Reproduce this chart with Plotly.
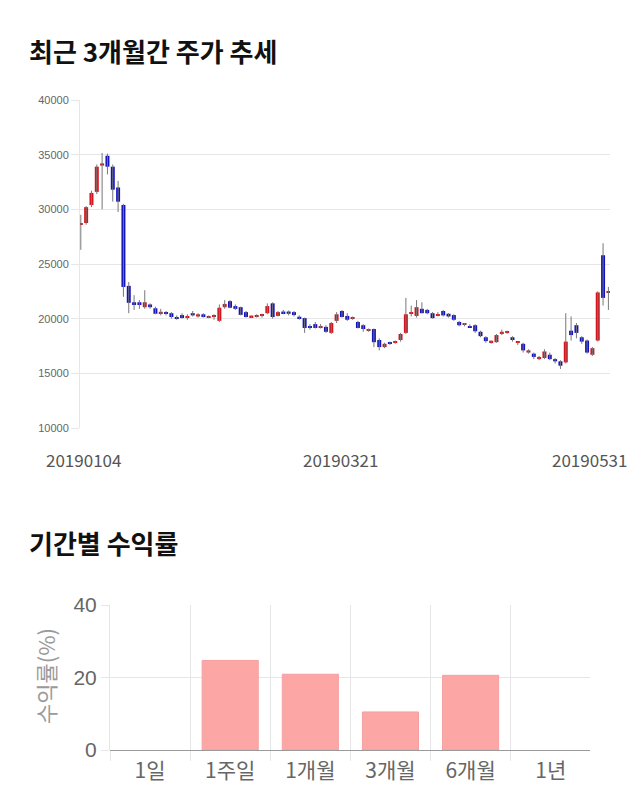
import plotly.graph_objects as go
import pandas as pd

# ---------------- data ----------------
holidays = ["2019-02-04", "2019-02-05", "2019-02-06", "2019-03-01", "2019-05-01", "2019-05-06"]
bdays = pd.bdate_range("2019-01-04", "2019-05-31")
dates = [d.strftime("%Y%m%d") for d in bdays if d.strftime("%Y-%m-%d") not in holidays]

open_ = [28600, 28750, 30400, 31600, 34000, 34900, 33900, 32000, 30400, 23000,
         21500, 21500, 21050, 21300, 20950, 20500, 20550, 20500, 20100, 20330,
         20100, 20500, 20200, 20400, 20100, 20200, 19800, 21050, 21600, 21150,
         21050, 20600, 20150, 20200, 20250, 20500, 21400, 20250, 20650, 20650,
         20600, 20150, 20050, 19300, 19500, 19200, 19250, 18700, 19800, 20700,
         20250, 20000, 19700, 19400, 18900, 19050, 18050, 17400, 17850, 17800,
         18050, 18700, 20450, 20250, 20900, 20800, 20500, 20300, 20700, 20450,
         20330, 19700, 19450, 19300, 19400, 18800, 18300, 17850, 17850, 18600,
         18700, 18300, 17800, 17700, 16900, 16800, 16300, 16400, 16700, 16300,
         16100, 16000, 18900, 19400, 18300, 18000, 16700, 18000, 25800, 22350]
high_ = [29500, 30300, 31700, 34100, 35150, 35100, 34100, 32600, 30500, 23350,
         22150, 21700, 22600, 21400, 21100, 20900, 20700, 20600, 20300, 20500,
         20400, 20700, 20500, 20500, 20300, 20400, 21300, 21700, 21700, 21300,
         21100, 20700, 20300, 20400, 20450, 21400, 21500, 20700, 20800, 20750,
         20700, 20300, 20100, 19500, 19700, 19500, 19400, 19700, 20600, 20800,
         20500, 20200, 19800, 19500, 19100, 19100, 18200, 17800, 17900, 18000,
         18700, 21900, 21200, 21700, 21500, 20900, 20600, 20600, 20800, 20500,
         20400, 19800, 19600, 19500, 19500, 18900, 18400, 18000, 18600, 19000,
         18900, 18400, 17900, 17800, 17200, 16900, 16600, 17200, 16900, 16400,
         16200, 20500, 20200, 19600, 18400, 18100, 17400, 22500, 26900, 22900]
low_ = [26300, 28600, 30200, 31400, 30000, 33200, 30700, 29750, 22000, 20500,
        20800, 20900, 20900, 20900, 20400, 20300, 20300, 20000, 19900, 20000,
        19900, 20200, 20100, 20100, 20050, 19900, 19700, 20900, 20950, 20800,
        20300, 20100, 20050, 20100, 20100, 20400, 20000, 20200, 20400, 20300,
        20200, 19900, 18700, 19000, 19100, 19100, 18700, 18600, 19600, 20100,
        19800, 19900, 19100, 18800, 18800, 17400, 17100, 17300, 17600, 17700,
        17900, 18600, 20200, 20100, 20500, 20400, 20000, 20200, 20200, 20100,
        19800, 19300, 19300, 19200, 18700, 18300, 17800, 17700, 17800, 18500,
        18600, 17900, 17600, 16900, 16800, 16300, 16200, 16300, 16200, 15900,
        15400, 15900, 18000, 18200, 17700, 16800, 16600, 17900, 21200, 20800]
close_ = [28700, 30200, 31500, 33900, 34200, 33900, 31800, 30700, 22900, 21450,
          21250, 21250, 21500, 21050, 20450, 20600, 20450, 20150, 20000, 20060,
          20200, 20300, 20400, 20150, 20200, 20300, 21000, 21350, 21000, 20900,
          20350, 20150, 20250, 20300, 20350, 21150, 20150, 20600, 20500, 20450,
          20330, 20050, 19150, 19150, 19150, 19300, 18800, 19600, 20400, 20150,
          19900, 20100, 19150, 19050, 19000, 17850, 17400, 17700, 17700, 17950,
          18600, 20400, 20550, 21050, 20500, 20500, 20050, 20400, 20300, 20200,
          19900, 19400, 19550, 19200, 18850, 18400, 17950, 17950, 18500, 18800,
          18800, 18050, 17900, 17100, 17100, 16500, 16500, 17000, 16300, 16100,
          15700, 17900, 18500, 18700, 17900, 16900, 17300, 22400, 21900, 22450]

periods = ["1일", "1주일", "1개월", "3개월", "6개월", "1년"]
returns = [None, 24.7, 20.9, 10.5, 20.6, None]

price_ticks = [10000, 15000, 20000, 25000, 30000, 35000, 40000]
return_ticks = [0, 20, 40]
date_labels = ["20190104", "20190321", "20190531"]

# ---------------- styles ----------------
UP = "#d3161d"
DOWN = "#1414be"
GRID = "#e6e6e6"
KFONT = "Noto Sans CJK KR"

W, H = 640, 810
def px_x(p):
    return p / W
def px_y(p):
    return 1 - p / H

fig = go.Figure()

# wicks
wx, wy = [], []
for d, hi, lo in zip(dates, high_, low_):
    wx += [d, d, None]
    wy += [lo, hi, None]
fig.add_trace(go.Scatter(x=wx, y=wy, mode="lines", line=dict(color="#777777", width=1),
                         hoverinfo="skip", showlegend=False, xaxis="x", yaxis="y"))

# bodies
base = [min(o, c) for o, c in zip(open_, close_)]
height = [max(abs(c - o), 130) for o, c in zip(open_, close_)]
colors = [UP if c > o else DOWN for o, c in zip(open_, close_)]
fig.add_trace(go.Bar(x=dates, y=height, base=base, width=0.75,
                     marker=dict(color=colors, line=dict(width=0)),
                     showlegend=False, xaxis="x", yaxis="y"))

# returns bars
fig.add_trace(go.Bar(x=periods, y=returns, width=0.7,
                     marker=dict(color="#fda6a6", line=dict(color="#f5a0a0", width=1)),
                     showlegend=False, xaxis="x2", yaxis="y2"))

annotations = [
    dict(text="<b>최근 3개월간 주가 추세</b>", xref="paper", yref="paper",
         x=px_x(27), y=px_y(50), xanchor="left", yanchor="middle", showarrow=False,
         font=dict(family=KFONT, size=26, color="#111111")),
    dict(text="<b>기간별 수익률</b>", xref="paper", yref="paper",
         x=px_x(27), y=px_y(542), xanchor="left", yanchor="middle", showarrow=False,
         font=dict(family=KFONT, size=26, color="#111111")),
    dict(text="수익률(%)", xref="paper", yref="paper", textangle=-90,
         x=px_x(45), y=px_y(676), xanchor="center", yanchor="middle", showarrow=False,
         font=dict(family=KFONT, size=22, color="#9a9a9a")),
]
shifts = [3, -7, -19]
for lab, s in zip(date_labels, shifts):
    annotations.append(dict(text=lab, xref="x", yref="paper", x=dates.index(lab), xshift=s,
                            y=px_y(459), yanchor="middle", xanchor="center", showarrow=False,
                            font=dict(family=KFONT, size=17, color="#555555")))

fig.update_layout(
    width=W, height=H, margin=dict(l=0, r=0, t=0, b=0, autoexpand=False),
    paper_bgcolor="white", plot_bgcolor="white",
    showlegend=False,
    annotations=annotations,
    xaxis=dict(type="category", domain=[px_x(80), px_x(610)], range=[-0.15, 99.3],
               showgrid=False, showticklabels=False, showline=False, ticks="",
               anchor="y", fixedrange=True),
    yaxis=dict(domain=[px_y(428), px_y(100)], range=[10000, 40000], tickvals=price_ticks,
               ticktext=[str(v) for v in price_ticks],
               showgrid=True, gridcolor=GRID, zeroline=False, showline=True, linecolor=GRID,
               ticks="outside", ticklen=8, tickcolor=GRID,
               tickfont=dict(family="Liberation Sans", size=11, color="#666666"),
               anchor="x"),
    xaxis2=dict(type="category", domain=[px_x(110), px_x(590)], range=[-0.5, 5.49],
                tickson="boundaries", showgrid=True, gridcolor=GRID,
                ticks="outside", ticklen=10, tickcolor=GRID, showline=False,
                ticklabelstandoff=6,
                tickfont=dict(family=KFONT, size=21, color="#666666"),
                anchor="y2"),
    yaxis2=dict(domain=[px_y(750), px_y(605)], range=[0, 40], tickvals=return_ticks,
                showgrid=True, gridcolor=GRID, zeroline=True, zerolinecolor="#9a9a9a",
                zerolinewidth=1, showline=True, linecolor=GRID,
                ticks="outside", ticklen=8, tickcolor=GRID,
                tickfont=dict(family="Liberation Sans", size=21, color="#666666"),
                anchor="x2"),
)

fig.write_html("out.html")
